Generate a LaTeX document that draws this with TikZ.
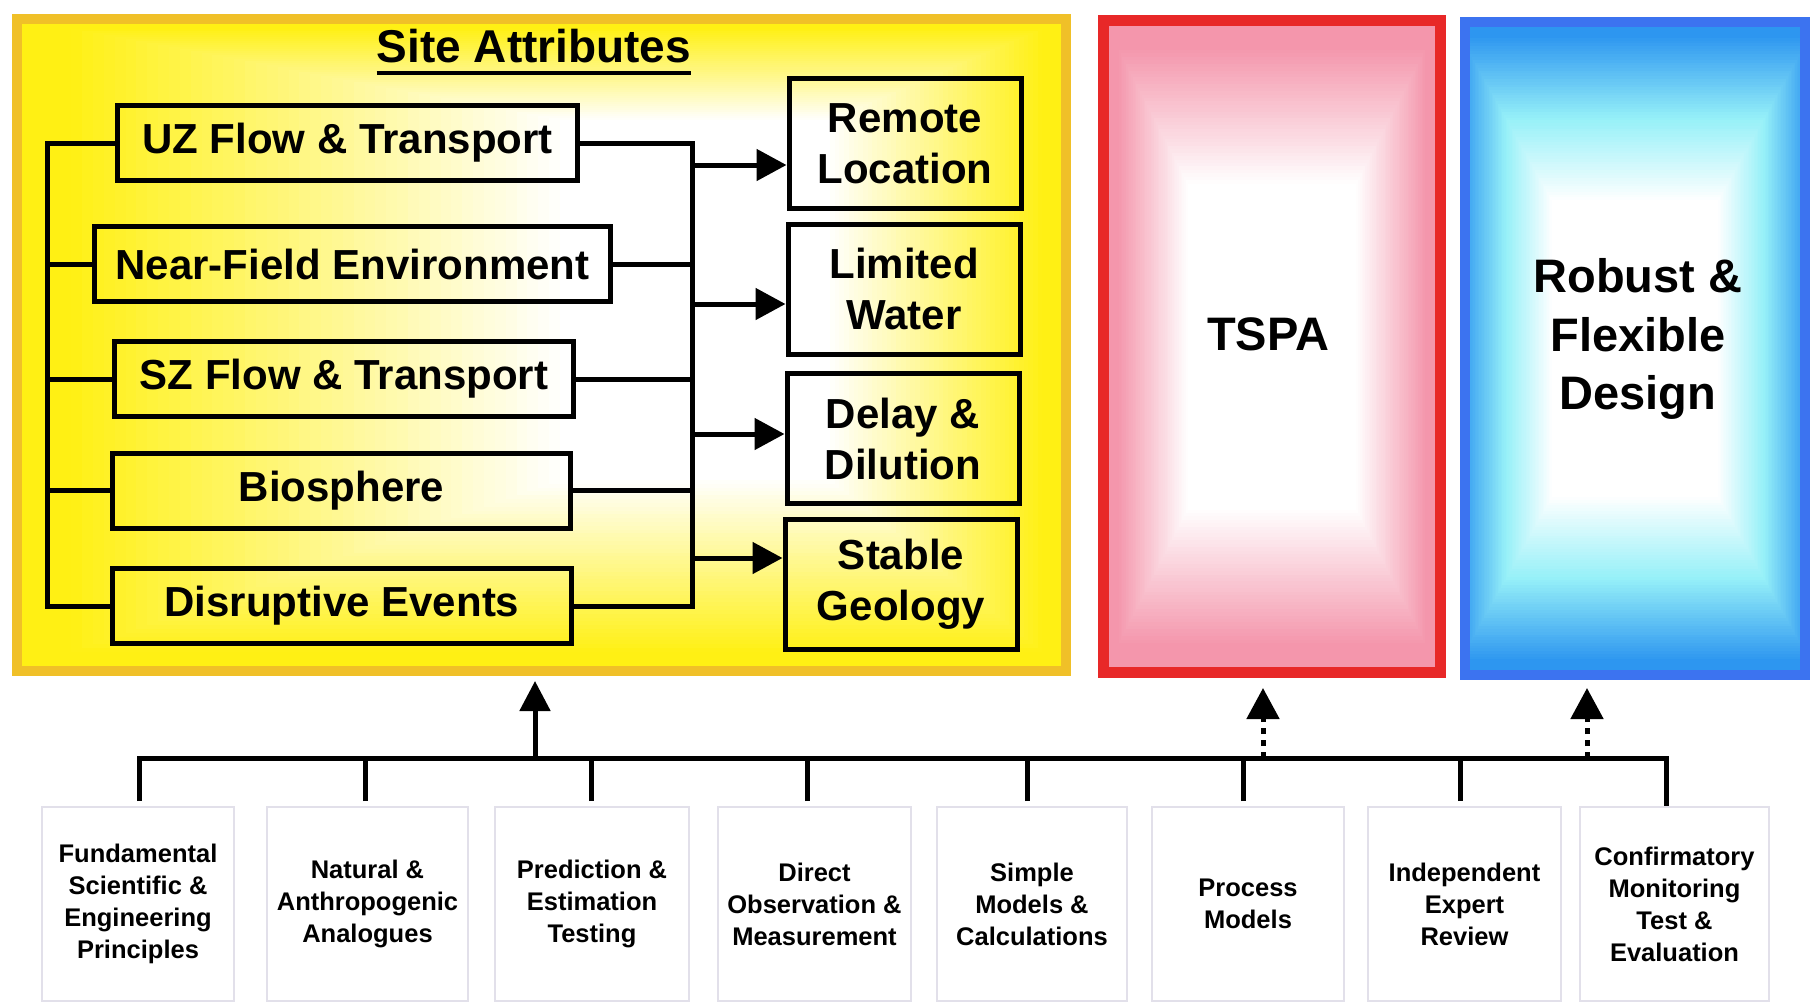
\documentclass[tikz,border=0pt]{standalone}
\usepackage{fontspec}
\setmainfont{Liberation Sans}
\usetikzlibrary{arrows.meta,calc}
\definecolor{yel}{RGB}{255,240,20}
\definecolor{yborder}{RGB}{240,192,40}
\definecolor{pinkc}{RGB}{244,150,172}
\definecolor{redb}{RGB}{232,40,40}
\definecolor{bluec}{RGB}{45,150,240}
\definecolor{cyanc}{RGB}{150,240,248}
\definecolor{blueb}{RGB}{60,115,240}
\definecolor{bgray}{RGB}{226,224,234}
\begin{document}
\begin{tikzpicture}[x=1pt,y=-1pt,
  conn/.style={line width=5pt},
  arr/.style={line width=5pt,-{Triangle[length=30pt,width=31pt]}},
  darr/.style={line width=5pt,dash pattern=on 6pt off 6pt,-{Triangle[length=31pt,width=32pt]}},
  attr/.style={draw,line width=5pt,minimum height=75pt,inner sep=0pt,font=\bfseries\fontsize{42pt}{51pt}\selectfont},
  goal/.style={draw,line width=5pt,align=center,inner sep=0pt,minimum height=130pt,minimum width=232pt,font=\bfseries\fontsize{42pt}{51pt}\selectfont},
  src/.style={draw=bgray,line width=2pt,fill=white,align=center,minimum height=194pt,inner sep=0pt,font=\bfseries\fontsize{25.5pt}{32pt}\selectfont},
  bigtext/.style={align=center,inner sep=0pt,font=\bfseries\fontsize{47pt}{58.5pt}\selectfont}
]
\useasboundingbox[fill=white] (0,0) rectangle (1813,1007);

% ---- gradient backgrounds ----
\begin{scope}
\clip (17,19) rectangle (1066,671);
\foreach \k in {0,...,50}{
  \pgfmathsetmacro\gS{1-\k/50}
  \pgfmathtruncatemacro\gP{min(100,110*\gS)}
  \fill[yel!\gP!white] ({560-543*\gS},{120-101*\gS}) rectangle ({830+236*\gS},{480+191*\gS});
}
\end{scope}
\begin{scope}
\clip (1103.5,20.5) rectangle (1440.5,672.5);
\fill[pinkc] (1103.5,20.5) rectangle (1440.5,672.5);
\foreach \k in {0,...,40}{
  \pgfmathsetmacro\gT{0.92-\k*0.42/40}
  \pgfmathtruncatemacro\gP{(\gT-0.5)/0.42*100}
  \fill[pinkc!\gP!white] (1272-168.5*\gT,346.5-326*\gT) rectangle (1272+168.5*\gT,346.5+326*\gT);
}
\end{scope}
\begin{scope}
\clip (1465,22) rectangle (1805,675);
\fill[bluec] (1465,22) rectangle (1805,675);
\foreach \k in {0,...,30}{
  \pgfmathsetmacro\gT{0.95-\k*0.25/30}
  \pgfmathtruncatemacro\gP{(\gT-0.7)/0.25*100}
  \fill[bluec!\gP!cyanc] (1635-185*\gT,348.5-330*\gT) rectangle (1635+185*\gT,348.5+330*\gT);
}
\foreach \k in {0,...,30}{
  \pgfmathsetmacro\gT{0.7-\k*0.25/30}
  \pgfmathtruncatemacro\gP{(\gT-0.45)/0.25*100}
  \fill[cyanc!\gP!white] (1635-185*\gT,348.5-330*\gT) rectangle (1635+185*\gT,348.5+330*\gT);
}
\end{scope}

% ---- big boxes ----
\node[draw=yborder,line width=10pt,minimum width=1049pt,minimum height=652pt,inner sep=0pt] (SA) at (541.5,345) {};
\node[draw=redb,line width=11pt,minimum width=337pt,minimum height=652pt,inner sep=0pt] (TS) at (1272,346.5) {};
\node[draw=blueb,line width=10pt,minimum width=340pt,minimum height=653pt,inner sep=0pt] (RB) at (1635,348.5) {};
\node[bigtext] (TStext) at (1268,334.5) {TSPA};
\node[bigtext] (RBtext) at (1638,339) {Robust \&\\Flexible\\Design};

% ---- title ----
\node[font=\bfseries\fontsize{46pt}{50pt}\selectfont,inner sep=0pt,anchor=base] (title) at (534,62) {Site Attributes};
\draw[line width=4pt] ([yshift=-11pt]title.base west) -- ([yshift=-11pt]title.base east);

% ---- site attribute boxes ----
\node[attr,minimum width=460pt] (UZ) at (347.5,143) {UZ Flow \& Transport};
\node[attr,minimum width=516pt] (NF) at (352.5,264) {Near-Field Environment};
\node[attr,minimum width=459pt] (SZ) at (344,379) {SZ Flow \& Transport};
\node[attr,minimum width=458pt] (BI) at (341.5,490.5) {Biosphere};
\node[attr,minimum width=459pt] (DE) at (342,606) {Disruptive Events};

\node[goal] (RL) at (905,143.5) {Remote\\Location};
\node[goal] (LW) at (904,289) {Limited\\Water};
\node[goal] (DD) at (903,438.5) {Delay \&\\Dilution};
\node[goal] (SG) at (901,584) {Stable\\Geology};

% ---- left bus ----
\coordinate (lbx) at (47,0);
\draw[conn] (UZ.west) -- (UZ.west -| lbx) -- (DE.west -| lbx) -- (DE.west);
\foreach \n in {NF,SZ,BI}{\draw[conn] (\n.west) -- (\n.west -| lbx);}

% ---- right bus ----
\coordinate (rbx) at (692,0);
\draw[conn] (UZ.east) -- (UZ.east -| rbx) -- (DE.east -| rbx) -- (DE.east);
\foreach \n in {NF,SZ,BI}{\draw[conn] (\n.east) -- (\n.east -| rbx);}
\coordinate (a1) at (692,165);
\coordinate (a2) at (692,304);
\coordinate (a3) at (692,434);
\coordinate (a4) at (692,558);
\draw[arr] (a1) -- (RL.west |- a1);
\draw[arr] (a2) -- (LW.west |- a2);
\draw[arr] (a3) -- (DD.west |- a3);
\draw[arr] (a4) -- (SG.west |- a4);

% ---- bottom sources ----
\node[src,minimum width=192pt] (S1) at (138,904) {Fundamental\\Scientific \&\\Engineering\\Principles};
\node[src,minimum width=201pt] (S2) at (367.5,904) {Natural \&\\Anthropogenic\\Analogues};
\node[src,minimum width=194pt] (S3) at (592,904) {Prediction \&\\Estimation\\Testing};
\node[src,minimum width=193pt] (S4) at (814.5,904) {Direct\\Observation \&\\Measurement};
\node[src,minimum width=190pt] (S5) at (1032,904) {Simple\\Models \&\\Calculations};
\node[src,minimum width=192pt] (S6) at (1248,904) {Process\\Models};
\node[src,minimum width=193pt] (S7) at (1464.5,904) {Independent\\Expert\\Review};
\node[src,minimum width=189pt] (S8) at (1674.5,904) {Confirmatory\\Monitoring\\Test \&\\Evaluation};

\coordinate (bus) at (0,758);
\coordinate (t1) at ([xshift=1pt]S1.north);
\coordinate (t2) at ([xshift=-2.5pt]S2.north);
\coordinate (t3) at ([xshift=-1pt]S3.north);
\coordinate (t4) at ([xshift=-7.5pt]S4.north);
\coordinate (t5) at ([xshift=-5pt]S5.north);
\coordinate (t6) at ([xshift=-5pt]S6.north);
\coordinate (t7) at ([xshift=-4.5pt]S7.north);
\coordinate (t8) at ([xshift=-8.5pt]S8.north);
\draw[conn,shorten <=5pt] (t1) -- (t1 |- bus) -- (t8 |- bus) -- (t8);
\foreach \n in {t2,t3,t4,t5,t6,t7}{\draw[conn,shorten <=5pt] (\n) -- (\n |- bus);}

% ---- upward arrows ----
\coordinate (u1) at (535,758);
\coordinate (u2) at (1263,758);
\coordinate (u3) at (1587,758);
\draw[arr,-{Triangle[length=30pt,width=30pt]}] (u1) -- ([yshift=-5pt]SA.south -| u1);
\draw[darr] (u2) -- ([yshift=-10pt]TS.south -| u2);
\draw[darr] (u3) -- ([yshift=-8pt]RB.south -| u3);
\end{tikzpicture}
\end{document}
